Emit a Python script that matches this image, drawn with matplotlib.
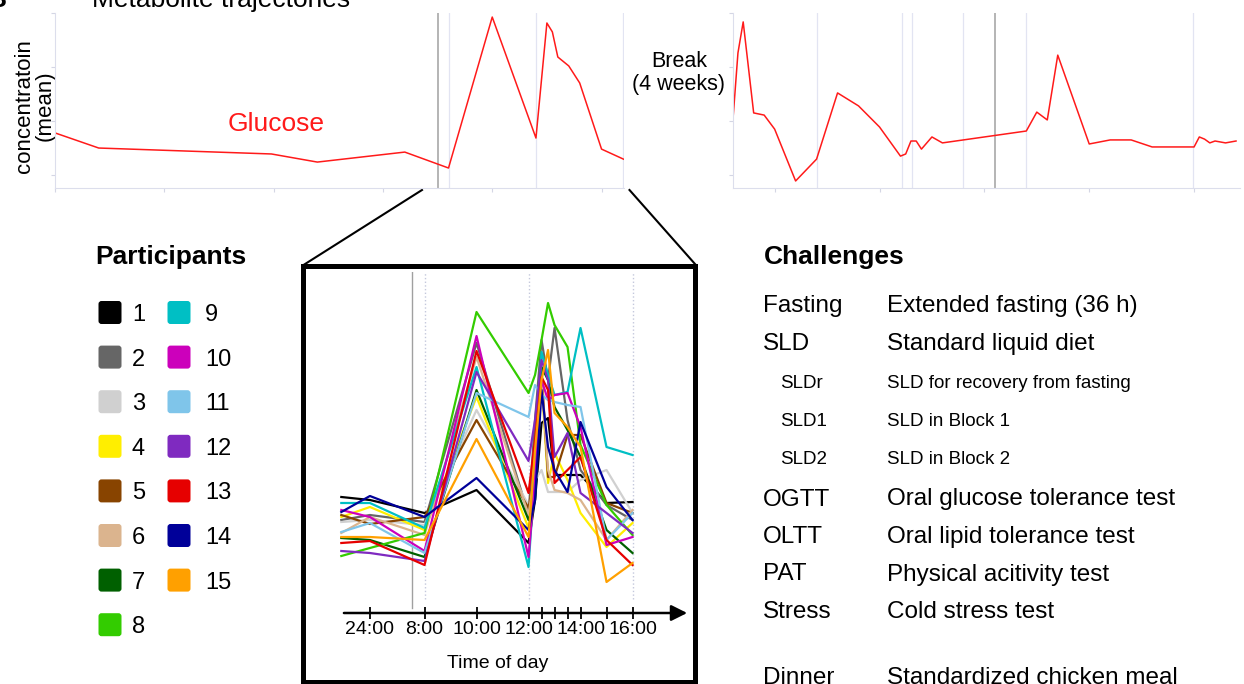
import matplotlib
matplotlib.use('Agg')
import matplotlib.pyplot as plt
from matplotlib.patches import FancyBboxPatch, Rectangle

plt.rcParams['font.family'] = ['Liberation Sans', 'DejaVu Sans']

W, H = 1244, 684

# mean glucose, block 1 (hours from start of shown window)
block1_t = [0, 2, 9.9, 12, 16, 18, 20, 22, 22.5, 22.75, 23, 23.5, 24, 25, 26]
block1_glc = [5.56, 5.0, 4.78, 4.48, 4.85, 4.26, 9.85, 5.37, 9.63, 9.30, 8.37, 8.04, 7.41, 4.96, 4.59]

# mean glucose, block 2
block2_t = [0, 0.25, 0.5, 1, 1.5, 2, 3, 4, 5, 6, 7, 8, 8.25, 8.5, 8.75, 9, 9.5, 10,
            14, 14.5, 15, 15.5, 17, 18, 19, 20, 22, 22.25, 22.5, 22.75, 23, 23.5, 24]
block2_glc = [5.93, 8.52, 9.67, 6.30, 6.22, 5.70, 3.78, 4.59, 7.04, 6.56, 5.78, 4.70, 4.78,
              5.26, 5.26, 4.96, 5.41, 5.19, 5.63, 6.33, 6.04, 8.44, 5.15, 5.30, 5.30, 5.04,
              5.04, 5.41, 5.33, 5.19, 5.26, 5.19, 5.26]
block1_marks = [18, 22, 26]
block1_break = 17.5
block2_marks = [4, 8.07, 8.55, 11, 14, 21.93]
block2_break = 12.5

# single-day trajectories per participant (inset)
inset_t = [4.8, 5.9, 8, 10, 12, 12.25, 12.5, 12.75, 13, 13.5, 14, 15, 16]
participant_glc = [
    [12.3, 12.0, 10.7, 13.0, 7.7, 12.0, 19.7, 20.2, 14.5, 14.5, 14.5, 11.7, 11.8],
    [10.0, 10.5, 9.8, 27.7, 10.5, 20.0, 28.0, 24.0, 29.2, 20.0, 15.0, 11.5, 10.0],
    [9.8, 10.0, 9.5, 21.0, 11.5, 14.0, 15.0, 12.8, 12.8, 12.8, 14.0, 15.0, 10.7],
    [10.3, 11.3, 9.0, 22.3, 9.2, 14.0, 24.0, 13.7, 16.7, 14.0, 10.7, 7.3, 9.7],
    [10.5, 9.6, 10.3, 20.0, 11.2, 15.0, 25.0, 14.3, 14.3, 18.5, 18.5, 11.7, 10.7],
    [8.7, 10.3, 8.5, 26.3, 10.5, 15.0, 24.0, 15.0, 13.0, 12.7, 12.0, 8.0, 11.0],
    [8.2, 8.0, 6.3, 23.0, 10.0, 12.0, 25.3, 24.0, 21.3, 19.0, 16.3, 9.0, 6.7],
    [6.4, 7.2, 8.7, 30.8, 22.7, 24.5, 28.0, 31.7, 29.5, 27.3, 17.5, 11.5, 8.5],
    [11.7, 11.7, 9.2, 25.3, 5.3, 15.0, 26.8, 24.5, 22.5, 22.8, 29.2, 17.3, 16.5],
    [11.0, 10.3, 6.9, 28.4, 6.3, 14.0, 24.0, 22.0, 22.5, 22.7, 19.3, 7.5, 8.3],
    [8.8, 9.7, 6.7, 22.7, 20.3, 23.5, 22.5, 22.0, 21.8, 21.5, 21.3, 8.0, 10.7],
    [6.9, 6.7, 5.9, 24.8, 15.9, 20.0, 26.0, 24.0, 16.3, 18.7, 12.7, 10.7, 8.7],
    [7.7, 7.9, 5.5, 26.9, 12.7, 18.0, 24.3, 23.0, 13.7, 15.0, 16.3, 8.0, 5.5],
    [10.8, 12.4, 10.3, 14.2, 9.0, 12.0, 23.0, 17.3, 15.0, 12.8, 19.8, 13.3, 10.0],
    [8.3, 8.3, 8.0, 18.1, 8.3, 17.0, 24.0, 27.0, 20.7, 19.3, 17.3, 3.8, 5.7],
]
participant_ids = [str(i) for i in range(1, 16)]
participant_colors = ['#000000', '#666666', '#d0d0d0', '#ffee00', '#884400', '#dbb48e',
                      '#006000', '#33cc00', '#00bfc4', '#cc00bb', '#7fc5ea', '#7f2ac0',
                      '#e60000', '#000099', '#ffa000']
inset_ticks = [5.9, 8, 10, 12, 12.5, 13, 13.5, 14, 15, 16]
inset_ticklabels = ['24:00', '8:00', '10:00', '12:00', '', '', '', '14:00', '', '16:00']

challenge_codes = ['Fasting', 'SLD', 'SLDr', 'SLD1', 'SLD2', 'OGTT', 'OLTT', 'PAT', 'Stress', 'Dinner']
challenge_desc = ['Extended fasting (36 h)', 'Standard liquid diet', 'SLD for recovery from fasting',
                  'SLD in Block 1', 'SLD in Block 2', 'Oral glucose tolerance test',
                  'Oral lipid tolerance test', 'Physical acitivity test', 'Cold stress test',
                  'Standardized chicken meal']
challenge_sub = [False, False, True, True, True, False, False, False, False, False]


def px_axes(l, t, r, b):
    return fig.add_axes([l / W, 1 - b / H, (r - l) / W, (b - t) / H])


def style_top(ax, xlim, xticks):
    ax.set_xlim(*xlim)
    ax.set_ylim(3.52, 10)
    ax.set_xticks(xticks)
    ax.set_yticks([4, 6, 8, 10])
    ax.set_xticklabels([])
    ax.set_yticklabels([])
    ax.tick_params(length=3, color='#d4d6e4', width=0.8)
    for s in ['top', 'right']:
        ax.spines[s].set_visible(False)
    for s in ['left', 'bottom']:
        ax.spines[s].set_color('#dcdeec')
        ax.spines[s].set_linewidth(0.8)
    ax.patch.set_alpha(0)


fig = plt.figure(figsize=(W / 100, H / 100), dpi=100)

ov = fig.add_axes([0, 0, 1, 1])
ov.set_xlim(0, W)
ov.set_ylim(H, 0)
ov.axis('off')

# top panels
ax1 = px_axes(55, 13, 624.5, 188)
style_top(ax1, (0, 26.05), [0, 5, 10, 15, 20, 25])
for m in block1_marks:
    ax1.axvline(m, color='#e2e4f2', lw=0.9)
ax1.axvline(block1_break, color='#a8a8a8', lw=1.2)
ax1.plot(block1_t, block1_glc, color='#ff1a1a', lw=1.1)

ax2 = px_axes(732.7, 13, 1240, 188)
style_top(ax2, (0, 24.19), [2, 7, 12, 17, 22])
for m in block2_marks:
    ax2.axvline(m, color='#e2e4f2', lw=0.9)
ax2.axvline(block2_break, color='#a8a8a8', lw=1.2)
ax2.plot(block2_t, block2_glc, color='#ff1a1a', lw=1.1)

ov.text(92, 7, 'Metabolite trajectories', fontsize=19, ha='left', va='baseline')
ov.text(6, 7, 'B', fontsize=19, fontweight='bold', ha='right', va='baseline')
ov.text(35, 106, 'concentratoin\n(mean)', fontsize=16, rotation=90, ha='center',
        va='center', multialignment='center', linespacing=1.0)
ov.text(228, 131, 'Glucose', fontsize=19, color='#ff1a1a', ha='left', va='baseline')
ov.text(679, 73, 'Break\n(4 weeks)', fontsize=15.5, ha='center', va='center',
        multialignment='center', linespacing=1.15)

# zoom box
ov.plot([422, 303.5], [190, 265], color='k', lw=1.5)
ov.plot([629.5, 695], [190, 264], color='k', lw=1.5)
ov.add_patch(Rectangle((302.5, 265.5), 392, 416, fill=False, lw=3.6, ec='k'))

ax3 = px_axes(330, 272, 690, 613)
ax3.set_xlim(4.365, 18.21)
ax3.set_ylim(0.7, 34.8)
ax3.patch.set_alpha(0)
for s in ax3.spines.values():
    s.set_visible(False)
ax3.axvline(7.5, ymin=0.015, ymax=1, color='#a0a0a0', lw=1.0)
for m in [8, 12, 16]:
    ax3.axvline(m, ymin=0.04, ymax=1, color='#c4c8dc', lw=1.0, ls=':')
for vals, c in zip(participant_glc, participant_colors):
    ax3.plot(inset_t, vals, color=c, lw=1.6)
ax3.set_yticks([])
ax3.set_xticks(inset_ticks)
ax3.set_xticklabels(inset_ticklabels, fontsize=14)
ax3.tick_params(axis='x', direction='inout', length=9, width=1.3, pad=1)
ax3.annotate('', xy=(18.1, 0), xytext=(4.9, 0), xycoords=('data', 'axes fraction'),
             textcoords=('data', 'axes fraction'),
             arrowprops=dict(arrowstyle='-|>', lw=1.8, color='k', mutation_scale=24,
                             shrinkA=0, shrinkB=0), annotation_clip=False)
ov.text(498, 664, 'Time of day', fontsize=14, ha='center', va='center')

# participants legend
ov.text(95, 264, 'Participants', fontsize=19, fontweight='bold', ha='left', va='baseline')
for i, (pid, c) in enumerate(zip(participant_ids, participant_colors)):
    col, row = divmod(i, 8)
    cx = 110 + col * 69
    cy = 312.5 + row * 44.6
    ov.add_patch(FancyBboxPatch((cx - 9, cy - 9), 18, 18, boxstyle='round,pad=2.5,rounding_size=3',
                                fc=c, ec='none'))
    ov.text(cx + 22 + col * 4, cy + 8.5, pid, fontsize=17, ha='left', va='baseline')

# challenges
ov.text(764, 264, 'Challenges', fontsize=19, fontweight='bold', ha='left', va='baseline')
rows_y = [312, 350, 388.5, 426, 464, 505.5, 543, 580.5, 618, 684]
for code, desc, sub, y in zip(challenge_codes, challenge_desc, challenge_sub, rows_y):
    fs = 13.5 if sub else 17.5
    ov.text(780 if sub else 763, y, code, fontsize=fs, ha='left', va='baseline')
    ov.text(887, y, desc, fontsize=fs, ha='left', va='baseline')

fig.savefig('out.png', dpi=100)
